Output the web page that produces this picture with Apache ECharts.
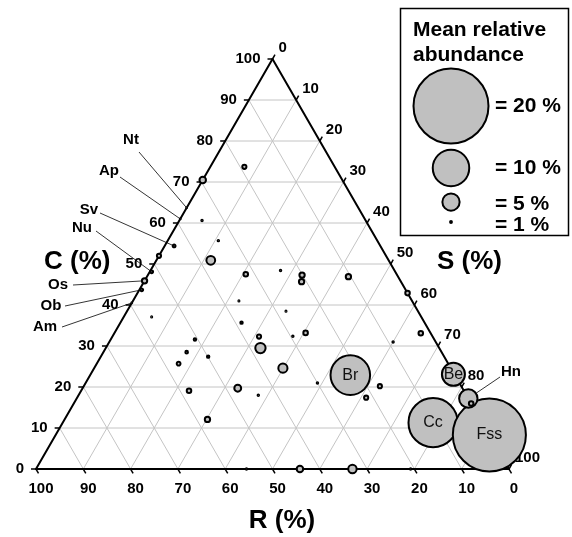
<!DOCTYPE html>
<html>
<head>
<meta charset="utf-8">
<script src="https://cdn.jsdelivr.net/npm/echarts@6/dist/echarts.min.js"></script>
<style>
  html, body { margin: 0; padding: 0; background: #fff; }
  #chart { width: 572px; height: 537px; }
</style>
</head>
<body>
<div id="chart"></div>
<script>
// ternary data: C (%), S (%); R = 100 - C - S
const pointC = [73.7, 70.5, 60.6, 55.7, 54.4, 52.0, 48.1, 45.9, 43.7, 50.9, 47.5, 48.4, 47.3, 45.7, 46.9,
  37.1, 41.0, 38.5, 35.7, 33.2, 32.4, 32.3, 29.5, 31.6, 28.5, 27.4, 25.7, 24.6, 22.9, 21.0, 20.2, 17.4,
  19.1, 19.7, 18.0, 12.1, 31.0, 33.1, 42.9, 23.1, 11.3, 8.3, 17.2, 16.0, 0, 0, 0, 0, 63.7, 61.0, 40.5];
const pointS = [7.2, 0, 4.8, 10.7, 2.0, 0, 0.4, 0, 0.5, 11.5, 20.6, 27.5, 32.6, 33.3, 42.6,
  5.9, 22.4, 33.6, 25.6, 40.4, 38.1, 31.0, 32.7, 17.8, 17.6, 22.7, 17.3, 39.9, 55.0, 49.0, 62.6, 61.1,
  22.8, 32.8, 38.0, 30.2, 60.0, 64.8, 57.1, 76.7, 78.3, 91.7, 82.8, 84.0, 55.8, 66.9, 44.5, 79.2, 0, 0, 0];
// mean relative abundance (%)
const abundance = [1.6, 2.2, 0.9, 0.9, 1.25, 1.6, 1.25, 1.9, 1.25, 2.8, 1.7, 0.9, 1.9, 1.9, 1.9,
  0.8, 0.8, 0.8, 1.15, 1.7, 0.9, 1.6, 3.2, 1.15, 1.2, 1.15, 1.5, 2.9, 10.8, 0.9, 1.6, 1.6,
  1.7, 2.3, 0.9, 1.9, 0.9, 1.7, 1.7, 6.5, 13.3, 19.5, 5.3, 1.7, 2.2, 2.7, 0.9, 0.9, 0.7, 0.7, 0.7];
const pointNames = ['', '', '', '', 'Sv', '', 'Nu', 'Os', 'Ob', '', '', '', '', '', '',
  '', '', '', '', '', '', '', '', '', '', '', '', '', 'Br', '', '', '',
  '', '', '', '', '', '', '', 'Be', 'Cc', 'Fss', 'Hn', '', '', '', '', '', 'Nt', 'Ap', 'Am'];

const ticks = [0, 10, 20, 30, 40, 50, 60, 70, 80, 90, 100];
const legendValues = [20, 10, 5, 1];
const legendLabels = ['= 20 %', '= 10 %', '= 5 %', '= 1 %'];

// layout
const PX_PER_PCT = 3.85;   // outer bubble diameter per % abundance
const BORDER = 2;
const FONT = "'Liberation Sans', Arial, sans-serif";
const leaderLayout = {   // text x, text y, line start x, line start y (px)
  Nt: [131, 140, 139, 152],
  Ap: [109, 171, 120, 177],
  Sv: [89, 210, 100, 213],
  Nu: [82, 228, 96, 231],
  Os: [58, 285, 73, 285],
  Ob: [51, 306, 65, 306],
  Am: [45, 327, 62, 327],
  Hn: [511, 372, 500, 377]
};
const legendY = [106, 168, 202, 222];
const legendTextY = [106, 168, 204, 225];

function toXY(c, s) { return [s + c / 2, c]; }
function pathSize(a) { return Math.max(a * PX_PER_PCT - BORDER, 0.8); }

// grid and frame segments
const gridSegs = [];
ticks.slice(1, -1).forEach(v => {
  gridSegs.push([...toXY(v, 0), ...toXY(v, 100 - v)]);
  gridSegs.push([...toXY(0, v), ...toXY(100 - v, v)]);
  gridSegs.push([...toXY(0, 100 - v), ...toXY(100 - v, 0)]);
});
const frameSegs = [
  [...toXY(0, 0), ...toXY(0, 100)],
  [...toXY(0, 100), ...toXY(100, 0)],
  [...toXY(100, 0), ...toXY(0, 0)]
];
const tickData = [];
ticks.forEach(v => {
  tickData.push([...toXY(v, 0), v, 0]);          // C, left side
  tickData.push([...toXY(0, 100 - v), v, 1]);    // R, bottom
  tickData.push([...toXY(100 - v, v), v, 2]);    // S, right side
});

const bubbles = pointC.map((c, i) => ({
  value: [...toXY(c, pointS[i]), abundance[i]],
  name: pointNames[i]
}));
const leaderData = [];
pointNames.forEach((n, i) => {
  if (leaderLayout[n]) leaderData.push({ value: toXY(pointC[i], pointS[i]), name: n });
});

function segRender(color, width) {
  return function (params, api) {
    const a = api.coord([api.value(0), api.value(1)]);
    const b = api.coord([api.value(2), api.value(3)]);
    return {
      type: 'line',
      shape: { x1: a[0], y1: a[1], x2: b[0], y2: b[1] },
      style: { stroke: color, lineWidth: width, lineCap: 'round' }
    };
  };
}

const chart = echarts.init(document.getElementById('chart'));

const legendGraphics = [{
  type: 'rect', shape: { x: 400.5, y: 8.5, width: 168, height: 227 },
  style: { fill: '#fff', stroke: '#000', lineWidth: 1.5 }
}, {
  type: 'text', x: 413, y: 18,
  style: { text: 'Mean relative\nabundance', font: 'bold 21px ' + FONT, fill: '#000', lineHeight: 25, verticalAlign: 'top' }
}];
legendValues.forEach((v, i) => {
  legendGraphics.push({
    type: 'circle', shape: { cx: 451, cy: legendY[i], r: pathSize(v) / 2 },
    style: { fill: '#c0c0c0', stroke: '#000', lineWidth: BORDER }
  });
  legendGraphics.push({
    type: 'text', x: 495, y: legendTextY[i],
    style: { text: legendLabels[i], font: 'bold 21px ' + FONT, fill: '#000', verticalAlign: 'middle' }
  });
});

const option = {
  animation: false,
  grid: { left: 36, top: 59, width: 473, height: 410 },
  xAxis: { type: 'value', min: 0, max: 100, show: false },
  yAxis: { type: 'value', min: 0, max: 100, show: false },
  graphic: [
    ...legendGraphics,
    { type: 'text', x: 44, y: 262, style: { text: 'C (%)', font: 'bold 26px ' + FONT, fill: '#000', verticalAlign: 'middle' } },
    { type: 'text', x: 437, y: 262, style: { text: 'S (%)', font: 'bold 26px ' + FONT, fill: '#000', verticalAlign: 'middle' } },
    { type: 'text', x: 282, y: 521, style: { text: 'R (%)', font: 'bold 26px ' + FONT, fill: '#000', align: 'center', verticalAlign: 'middle' } }
  ],
  series: [
    {
      type: 'custom', z: 1, silent: true, clip: false,
      encode: { x: [0, 2], y: [1, 3] },
      data: gridSegs, renderItem: segRender('#c4c4c4', 1)
    },
    {
      type: 'custom', z: 2, silent: true, clip: false,
      encode: { x: [0, 2], y: [1, 3] },
      data: frameSegs, renderItem: segRender('#000', 2)
    },
    {
      type: 'custom', z: 3, silent: true, clip: false,
      data: tickData,
      renderItem: function (params, api) {
        const p = api.coord([api.value(0), api.value(1)]);
        const side = api.value(3);
        const dirs = [[-1, 0], [0.5, 0.866], [0.5, -0.866]];
        const d = dirs[side];
        const L = 5;
        let tx, ty, align;
        if (side === 0) { tx = p[0] - 12; ty = p[1]; align = 'right'; }
        else if (side === 1) { tx = p[0] + 5; ty = p[1] + 20; align = 'center'; }
        else { tx = p[0] + 6; ty = p[1] - 11; align = 'left'; }
        return {
          type: 'group',
          children: [{
            type: 'line',
            shape: { x1: p[0], y1: p[1], x2: p[0] + d[0] * L, y2: p[1] + d[1] * L },
            style: { stroke: '#000', lineWidth: 1.5 }
          }, {
            type: 'text', x: tx, y: ty,
            style: { text: String(api.value(2)), font: 'bold 15px ' + FONT, fill: '#000', align: align, verticalAlign: 'middle' }
          }]
        };
      }
    },
    {
      type: 'custom', z: 3, silent: true, clip: false,
      data: leaderData,
      renderItem: function (params, api) {
        const p = api.coord([api.value(0), api.value(1)]);
        const name = leaderData[params.dataIndex].name;
        const l = leaderLayout[name];
        return {
          type: 'group',
          children: [{
            type: 'line',
            shape: { x1: l[2], y1: l[3], x2: p[0], y2: p[1] },
            style: { stroke: '#000', lineWidth: 0.8 }
          }, {
            type: 'text', x: l[0], y: l[1],
            style: { text: name, font: 'bold 15px ' + FONT, fill: '#000', align: 'center', verticalAlign: 'middle' }
          }]
        };
      }
    },
    {
      type: 'scatter', z: 5, clip: false, silent: true,
      data: bubbles,
      symbolSize: v => pathSize(v[2]),
      itemStyle: { color: '#c0c0c0', borderColor: '#000', borderWidth: BORDER, opacity: 1 },
      label: {
        show: true, position: 'inside',
        formatter: p => (leaderLayout[p.name] ? '' : p.name),
        fontFamily: FONT, fontSize: 16, color: '#111'
      }
    }
  ]
};
chart.setOption(option);
</script>
</body>
</html>
